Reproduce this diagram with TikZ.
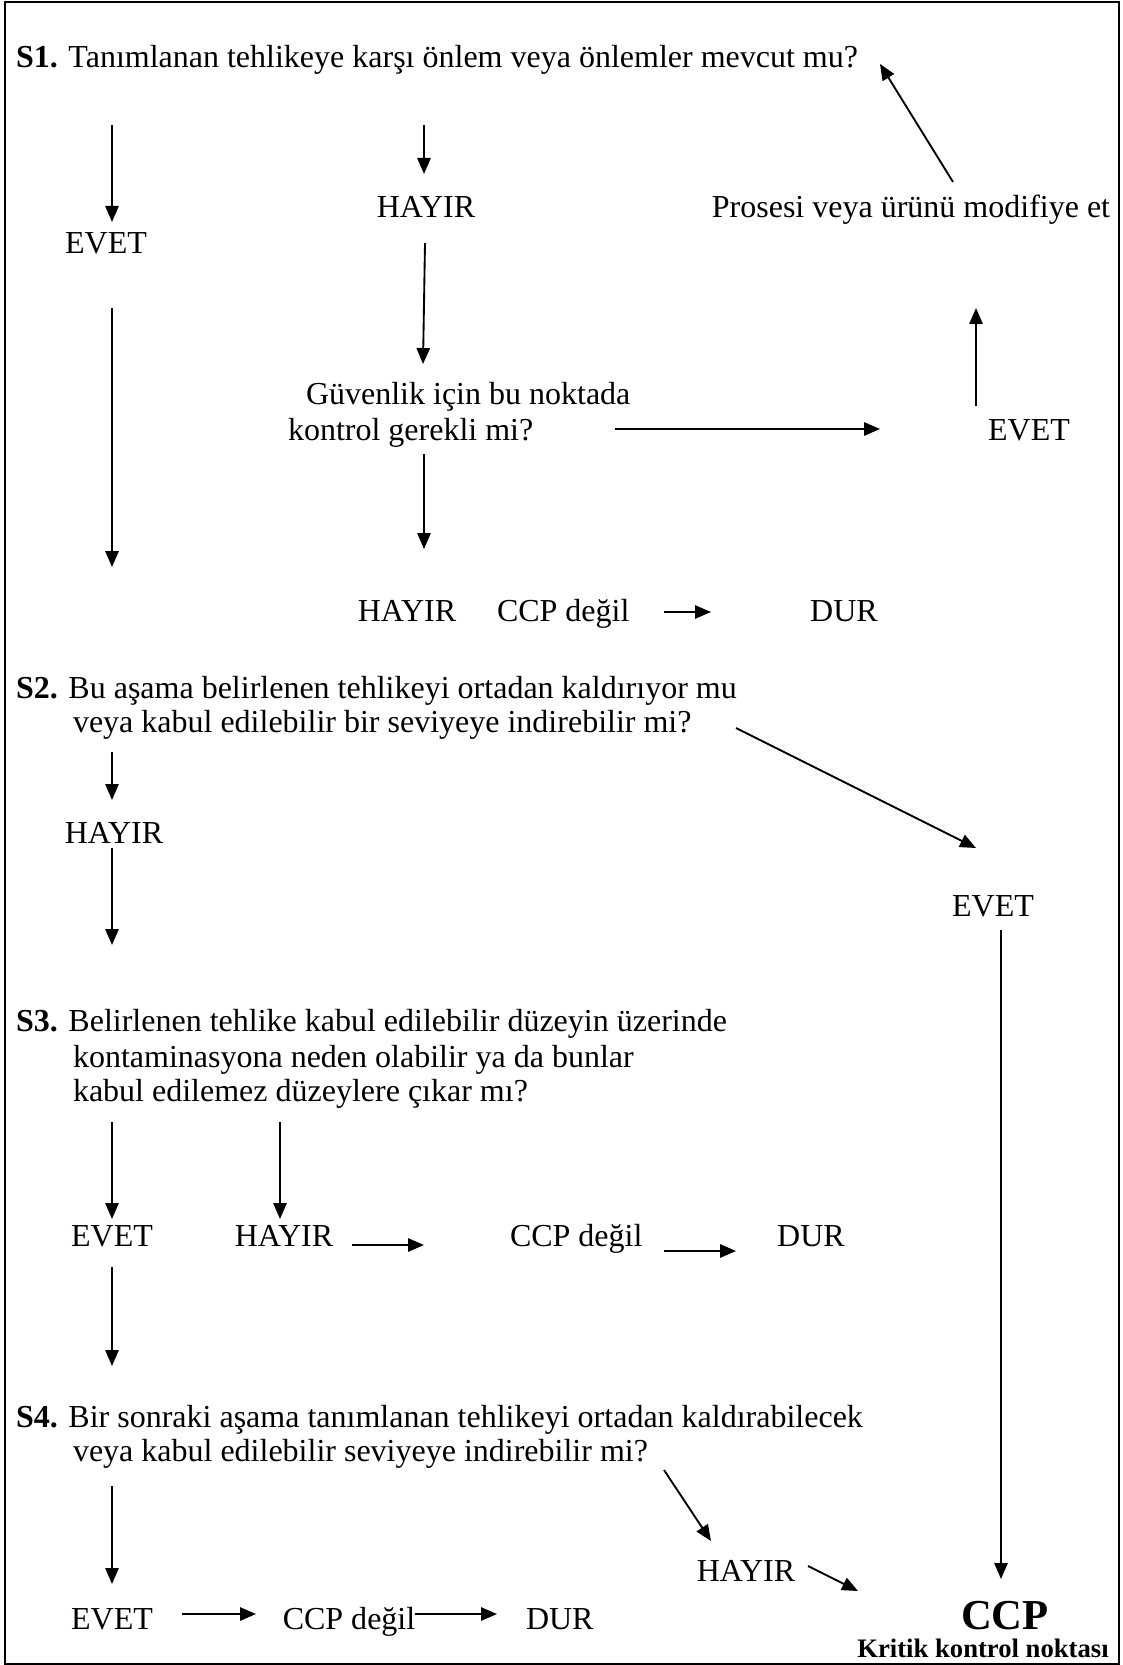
\documentclass[tikz,border=0pt]{standalone}
\usepackage{fontspec}
\setmainfont{Liberation Serif}
\usetikzlibrary{arrows.meta}
\begin{document}
\begin{tikzpicture}[x=0.375pt,y=-0.375pt,
  lbl/.style={inner sep=0pt, outer sep=0pt, font=\fontsize{12}{14}\selectfont},
  lline/.style={lbl, anchor=base west},
  clbl/.style={lbl, anchor=base},
  arr/.style={line width=0.7pt, -{Triangle[length=6pt,width=5pt]}},
  frame/.style={line width=0.9pt}]
\useasboundingbox (0,0) rectangle (1122,1665);
\draw[frame] (5,2) rectangle (1119,1664);

% ---- S1 block
\node[lline] (s1) at (16,68) {\textbf{S1.} Tanımlanan tehlikeye karşı önlem veya önlemler mevcut mu?};
\node[clbl] (evL1) at (106,254) {EVET};
\node[clbl] (hay1) at (426,218) {HAYIR};
\node[clbl] (pros) at (911,218) {Prosesi veya ürünü modifiye et};
\node[lline] (guv1) at (306,404) {Güvenlik için bu noktada};
\node[lline] (guv2) at (288,440) {kontrol gerekli mi?};
\node[clbl] (evR1) at (1029,440) {EVET};
\node[clbl] (hay2) at (407,621) {HAYIR};
\node[lline] (ccpd1) at (497,621) {CCP değil};
\node[clbl] (dur1) at (844,621) {DUR};

% ---- S2 block
\node[lline] (s2a) at (16,698) {\textbf{S2.} Bu aşama belirlenen tehlikeyi ortadan kaldırıyor mu};
\node[lline] (s2b) at (73,732) {veya kabul edilebilir bir seviyeye indirebilir mi?};
\node[clbl] (hayL2) at (114,843) {HAYIR};
\node[clbl] (evR2) at (993,916) {EVET};

% ---- S3 block
\node[lline] (s3a) at (16,1031) {\textbf{S3.} Belirlenen tehlike kabul edilebilir düzeyin üzerinde};
\node[lline] (s3b) at (73,1067) {kontaminasyona neden olabilir ya da bunlar};
\node[lline] (s3c) at (73,1101) {kabul edilemez düzeylere çıkar mı?};
\node[clbl] (ev3) at (112,1246) {EVET};
\node[clbl] (hay3) at (284,1246) {HAYIR};
\node[lline] (ccpd3) at (510,1246) {CCP değil};
\node[clbl] (dur3) at (811,1246) {DUR};

% ---- S4 block
\node[lline] (s4a) at (16,1427) {\textbf{S4.} Bir sonraki aşama tanımlanan tehlikeyi ortadan kaldırabilecek};
\node[lline] (s4b) at (73,1461) {veya kabul edilebilir seviyeye indirebilir mi?};
\node[clbl] (hay4) at (746,1581) {HAYIR};
\node[clbl] (ev4) at (112,1629) {EVET};
\node[clbl] (ccpd4) at (349,1629) {CCP değil};
\node[lline] (dur4) at (526,1629) {DUR};
\node[inner sep=0pt, anchor=base, font=\fontsize{16}{18}\selectfont\bfseries] (ccp) at (1005,1629) {CCP};
\node[inner sep=0pt, anchor=base, font=\fontsize{10}{12}\selectfont\bfseries] (krit) at (983,1657) {Kritik kontrol noktası};

% ---- connector end points
\coordinate (a1s) at (112,125);  \coordinate (a1e) at (112,222);
\coordinate (a2s) at (424,125);  \coordinate (a2e) at (424,174);
\coordinate (a3s) at (953,182);  \coordinate (a3e) at (880,64);
\coordinate (a4s) at (112,308);  \coordinate (a4e) at (112,567);
\coordinate (a5s) at (425,243);  \coordinate (a5e) at (423,364);
\coordinate (a6s) at (615,429);  \coordinate (a6e) at (880,429);
\coordinate (a7s) at (976,406);  \coordinate (a7e) at (976,308);
\coordinate (a8s) at (424,454);  \coordinate (a8e) at (424,549);
\coordinate (a9s) at (664,612);  \coordinate (a9e) at (711,612);
\coordinate (a10s) at (112,752); \coordinate (a10e) at (112,800);
\coordinate (a11s) at (112,848); \coordinate (a11e) at (112,945);
\coordinate (a12s) at (736,728); \coordinate (a12e) at (976,848);
\coordinate (a13s) at (1001,930); \coordinate (a13e) at (1001,1579);
\coordinate (a14s) at (112,1122); \coordinate (a14e) at (112,1219);
\coordinate (a15s) at (280,1122); \coordinate (a15e) at (280,1219);
\coordinate (a16s) at (352,1245); \coordinate (a16e) at (424,1245);
\coordinate (a17s) at (664,1251); \coordinate (a17e) at (736,1251);
\coordinate (a18s) at (112,1267); \coordinate (a18e) at (112,1366);
\coordinate (a19s) at (112,1486); \coordinate (a19e) at (112,1584);
\coordinate (a20s) at (664,1470); \coordinate (a20e) at (711,1541);
\coordinate (a21s) at (808,1566); \coordinate (a21e) at (858,1591);
\coordinate (a22s) at (182,1614); \coordinate (a22e) at (256,1614);
\coordinate (a23s) at (415,1614); \coordinate (a23e) at (497,1614);

% ---- connectors
\draw[arr] (a1s) -- (a1e);
\draw[arr] (a2s) -- (a2e);
\draw[arr] (a3s) -- (a3e);
\draw[arr] (a4s) -- (a4e);
\draw[arr] (a5s) -- (a5e);
\draw[arr] (a6s) -- (a6e);
\draw[arr] (a7s) -- (a7e);
\draw[arr] (a8s) -- (a8e);
\draw[arr] (a9s) -- (a9e);
\draw[arr] (a10s) -- (a10e);
\draw[arr] (a11s) -- (a11e);
\draw[arr] (a12s) -- (a12e);
\draw[arr] (a13s) -- (a13e);
\draw[arr] (a14s) -- (a14e);
\draw[arr] (a15s) -- (a15e);
\draw[arr] (a16s) -- (a16e);
\draw[arr] (a17s) -- (a17e);
\draw[arr] (a18s) -- (a18e);
\draw[arr] (a19s) -- (a19e);
\draw[arr] (a20s) -- (a20e);
\draw[arr] (a21s) -- (a21e);
\draw[arr] (a22s) -- (a22e);
\draw[arr] (a23s) -- (a23e);
\end{tikzpicture}
\end{document}
